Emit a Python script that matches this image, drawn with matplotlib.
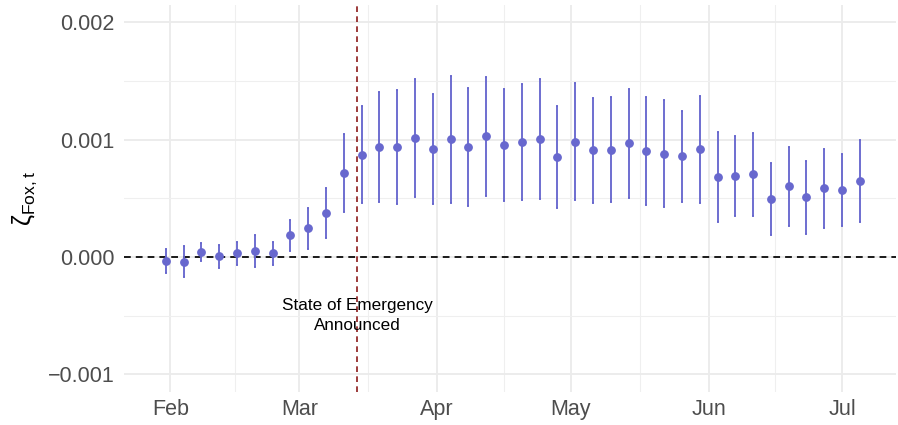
import numpy as np
import pandas as pd
import matplotlib
matplotlib.use("Agg")
import matplotlib.pyplot as plt

plt.rcParams['font.family'] = ['Liberation Sans', 'DejaVu Sans']
plt.rcParams['mathtext.fontset'] = 'custom'
plt.rcParams['mathtext.rm'] = 'Liberation Sans'
plt.rcParams['mathtext.it'] = 'Liberation Sans:italic'

# estimates every 4 days, starting 2020-01-31
dates = pd.date_range('2020-01-31', periods=40, freq='4D')
estimate = [
    -0.000034, -0.000040, 0.000040, 0.000006, 0.000032, 0.000054, 0.000032, 0.000185,
    0.000244, 0.000378, 0.000719, 0.000869, 0.000937, 0.000937, 0.001014, 0.000920,
    0.001003, 0.000934, 0.001028, 0.000951, 0.000983, 0.001005, 0.000855, 0.000983,
    0.000909, 0.000911, 0.000969, 0.000903, 0.000881, 0.000858, 0.000917, 0.000681,
    0.000690, 0.000704, 0.000497, 0.000602, 0.000509, 0.000585, 0.000571, 0.000647,
]
upper = [
    0.000066, 0.000094, 0.000117, 0.000102, 0.000131, 0.000191, 0.000131, 0.000319,
    0.000415, 0.000588, 0.001051, 0.001284, 0.001409, 0.001423, 0.001516, 0.001389,
    0.001545, 0.001440, 0.001537, 0.001428, 0.001477, 0.001520, 0.001290, 0.001486,
    0.001358, 0.001363, 0.001434, 0.001366, 0.001341, 0.001247, 0.001375, 0.001068,
    0.001031, 0.001056, 0.000804, 0.000940, 0.000818, 0.000920, 0.000875, 0.000997,
]
lower = [
    -0.000136, -0.000173, -0.000037, -0.000094, -0.000068, -0.000082, -0.000068, 0.000051,
    0.000071, 0.000165, 0.000387, 0.000460, 0.000469, 0.000451, 0.000509, 0.000449,
    0.000460, 0.000432, 0.000517, 0.000474, 0.000489, 0.000494, 0.000421, 0.000486,
    0.000463, 0.000466, 0.000506, 0.000443, 0.000423, 0.000472, 0.000463, 0.000296,
    0.000347, 0.000353, 0.000191, 0.000264, 0.000196, 0.000250, 0.000264, 0.000296,
]
emergency_date = pd.Timestamp('2020-03-14')
month_ticks = pd.to_datetime(['2020-02-01', '2020-03-01', '2020-04-01',
                              '2020-05-01', '2020-06-01', '2020-07-01'])
month_labels = ['Feb', 'Mar', 'Apr', 'May', 'Jun', 'Jul']
y_ticks = [-0.001, 0.0, 0.001, 0.002]
y_labels = ['\u22120.001', '0.000', '0.001', '0.002']

point_color = '#6868CE'

fig = plt.figure(figsize=(8.98, 4.25), dpi=100)
ax = fig.add_axes([124 / 898, 33 / 425, 772 / 898, 387 / 425])

est = np.array(estimate)
yerr = [est - np.array(lower), np.array(upper) - est]
ax.errorbar(dates, est, yerr=yerr, fmt='o', color=point_color, ecolor=point_color,
            markersize=5.3, elinewidth=1.35, capsize=1.0, capthick=1.35, zorder=3)

ax.axhline(0, color='black', linewidth=1.25, linestyle=(0, (3.9, 2.9)), zorder=2)
ax.axvline(emergency_date, color='#8B1A1A', linewidth=1.2, linestyle=(0, (3.4, 2.6)), zorder=2)
ax.text(emergency_date, -0.0005, 'State of Emergency\nAnnounced', ha='center', va='center',
        multialignment='center', fontsize=12.3, linespacing=1.45, color='black')

# axes ranges
ax.set_xlim(pd.Timestamp('2020-01-21 14:00'), pd.Timestamp('2020-07-13 03:00'))
ax.set_ylim(-0.0011508, 0.0021474)

ax.set_xticks(month_ticks)
ax.set_xticklabels(month_labels)
mids = month_ticks[:-1] + (month_ticks[1:] - month_ticks[:-1]) / 2
ax.set_xticks(mids, minor=True)
ax.set_yticks(y_ticks)
ax.set_yticklabels(y_labels)
ax.set_yticks([-0.0005, 0.0005, 0.0015], minor=True)

ax.grid(which='major', color='#EBEBEB', linewidth=1.3)
ax.grid(which='minor', color='#EFEFEF', linewidth=0.8)
ax.set_axisbelow(True)
for s in ax.spines.values():
    s.set_visible(False)
ax.tick_params(which='both', length=0)
ax.tick_params(axis='y', labelsize=15.5, colors='#4D4D4D', pad=7)
ax.tick_params(axis='x', labelsize=15.5, colors='#4D4D4D', pad=5)

ax.set_ylabel('\u03b6$_{\\mathrm{Fox,t}}$', fontsize=18, color='black', labelpad=6)

fig.savefig('out.png', dpi=100)
